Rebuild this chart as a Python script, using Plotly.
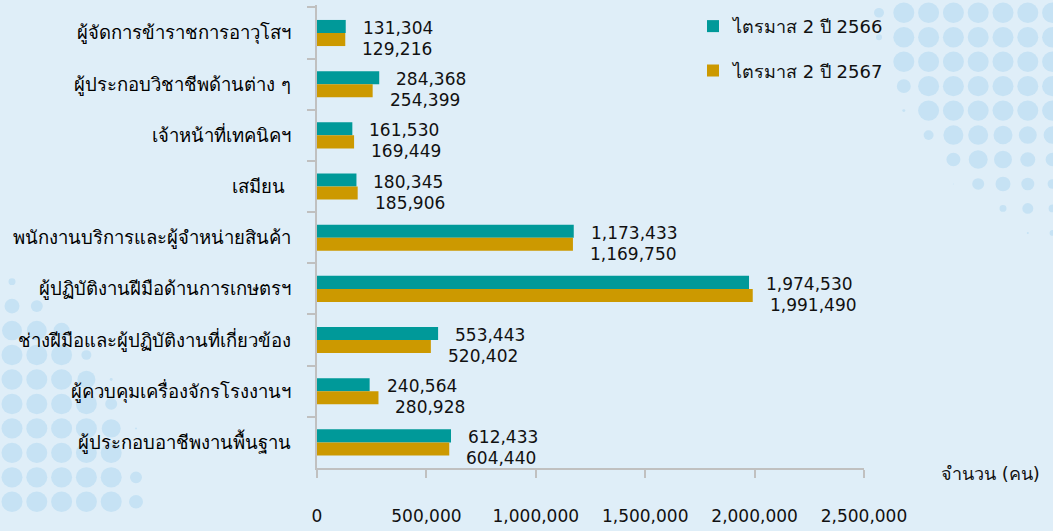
import plotly.graph_objects as go

categories = [
    "ผู้จัดการข้าราชการอาวุโสฯ",
    "ผู้ประกอบวิชาชีพด้านต่าง ๆ",
    "เจ้าหน้าที่เทคนิคฯ",
    "เสมียน\u00a0",
    "พนักงานบริการและผู้จำหน่ายสินค้า",
    "ผู้ปฏิบัติงานฝีมือด้านการเกษตรฯ",
    "ช่างฝีมือและผู้ปฏิบัติงานที่เกี่ยวข้อง",
    "ผู้ควบคุมเครื่องจักรโรงงานฯ",
    "ผู้ประกอบอาชีพงานพื้นฐาน",
]
q2_2566 = [131304, 284368, 161530, 180345, 1173433, 1974530, 553443, 240564, 612433]
q2_2567 = [129216, 254399, 169449, 185906, 1169750, 1991490, 520402, 280928, 604440]
series_names = ["ไตรมาส 2 ปี 2566", "ไตรมาส 2 ปี 2567"]
x_title = "จำนวน (คน)"

TEAL = "#009999"
GOLD = "#CC9900"
BG = "#DFEEF8"
DOT = "#C6E2F4"
FONT = "Tahoma, DejaVu Sans, sans-serif"
TXT = "#111111"

W, H = 1053, 531
L, R, T, B = 317, 189, 5, 49
PW, PH = W - L - R, H - T - B

fig = go.Figure()
for name, vals, col in [(series_names[0], q2_2566, TEAL), (series_names[1], q2_2567, GOLD)]:
    fig.add_trace(go.Bar(
        name=name, y=categories, x=vals, orientation="h",
        marker=dict(color=col, line=dict(width=0)),
        legendgroup=name, hoverinfo="x+name",
    ))

annotations = []
for cat, v1, v2 in zip(categories, q2_2566, q2_2567):
    annotations.append(dict(x=v1, y=cat, xref="x", yref="y", text=f"{v1:,}", showarrow=False,
                            xanchor="left", yanchor="middle", xshift=15, yshift=5,
                            font=dict(family=FONT, size=17, color=TXT)))
    annotations.append(dict(x=v2, y=cat, xref="x", yref="y", text=f"{v2:,}", showarrow=False,
                            xanchor="left", yanchor="middle", xshift=15, yshift=-16,
                            font=dict(family=FONT, size=17, color=TXT)))
annotations.append(dict(x=(990 - L) / PW, y=(H - B - 488) / PH, xref="paper", yref="paper",
                        text=x_title, showarrow=False, xanchor="center", yanchor="middle",
                        font=dict(family=FONT, size=18, color=TXT)))

# decorative halftone dots (background)
def px2paper(px, py):
    return (px - L) / PW, (H - B - py) / PH

shapes = []
tr_radii = [
    [5, 10.5, 10.5, 10.5, 10.5, 10.5, 10.5, 10.5],
    [3, 10.5, 10.5, 10.5, 10.5, 10.5, 10.5, 10.5],
    [0, 10.5, 10.5, 10.5, 10.5, 10.5, 10.5, 10.5],
    [0, 7, 10.5, 10.5, 10.5, 10.5, 10.5, 10.5],
    [0, 1.5, 10.5, 10.5, 10.5, 10.5, 10.5, 10.5],
    [0, 0, 5, 10, 10, 9.5, 9, 9],
    [0, 0, 0, 7, 9.5, 9, 7.5, 7],
    [0, 0, 0, 0.5, 6, 7.5, 6.5, 5],
    [0, 0, 0, 0, 0, 3.5, 5.5, 4],
    [0, 0, 0, 0, 0, 0, 1, 3],
]
bl_radii = [
    [3.5],
    [7.5, 6],
    [10, 10, 8],
    [10.5, 10.5, 10.5, 5],
    [10.5, 10.5, 10.5, 9, 1.5],
    [10.5, 10.5, 10.5, 10.5, 6],
    [10.5, 10.5, 10.5, 10.5, 9.5, 1],
    [10.5, 10.5, 10.5, 10.5, 10.5],
    [10.5, 10.5, 10.5, 10.5, 10.5, 6],
    [10.5, 10.5, 10.5, 10.5, 10.5, 7],
]
for grid, x0, y0 in [(tr_radii, 879, 13), (bl_radii, 12, 290)]:
    for ri, row in enumerate(grid):
        for ci, r in enumerate(row):
            if r <= 0:
                continue
            cx, cy = x0 + 24.8 * ci, y0 + 25.2 * ri
            ax0, ay1 = px2paper(cx - r, cy - r)
            ax1, ay0 = px2paper(cx + r, cy + r)
            shapes.append(dict(type="circle", xref="paper", yref="paper",
                               x0=ax0, x1=ax1, y0=ay0, y1=ay1,
                               fillcolor=DOT, line=dict(width=0), layer="below"))

fig.update_layout(
    width=W, height=H,
    margin=dict(l=L, r=R, t=T, b=B),
    paper_bgcolor=BG, plot_bgcolor=BG,
    barmode="group", bargap=0.49, bargroupgap=0,
    font=dict(family=FONT, size=17, color=TXT),
    legend=dict(x=(693 - L) / PW, y=(H - B - 8) / PH, xanchor="left", yanchor="top",
                bgcolor="rgba(0,0,0,0)", traceorder="grouped", tracegroupgap=18,
                font=dict(family=FONT, size=18, color=TXT)),
    annotations=annotations,
    shapes=shapes,
    showlegend=True,
)
fig.update_xaxes(
    range=[0, 2500000], dtick=500000, tickformat=",", showgrid=False, zeroline=False,
    showline=True, linecolor="#C0C0C0", linewidth=2,
    ticks="outside", ticklen=8, tickwidth=2, tickcolor="#C0C0C0",
    ticklabelstandoff=24, tickfont=dict(family=FONT, size=17, color=TXT),
)
fig.update_yaxes(
    autorange="reversed", showgrid=False, zeroline=False,
    showline=True, linecolor="#C0C0C0", linewidth=2,
    ticks="outside", ticklen=8, tickwidth=2, tickcolor="#C0C0C0", tickson="boundaries",
    ticklabelstandoff=20, tickfont=dict(family=FONT, size=18.5, color="#000000"),
)

fig.write_html(
    "out.html",
    config={"displayModeBar": False},
    post_script="document.body.style.margin='0';document.body.style.background='" + BG + "';",
)
